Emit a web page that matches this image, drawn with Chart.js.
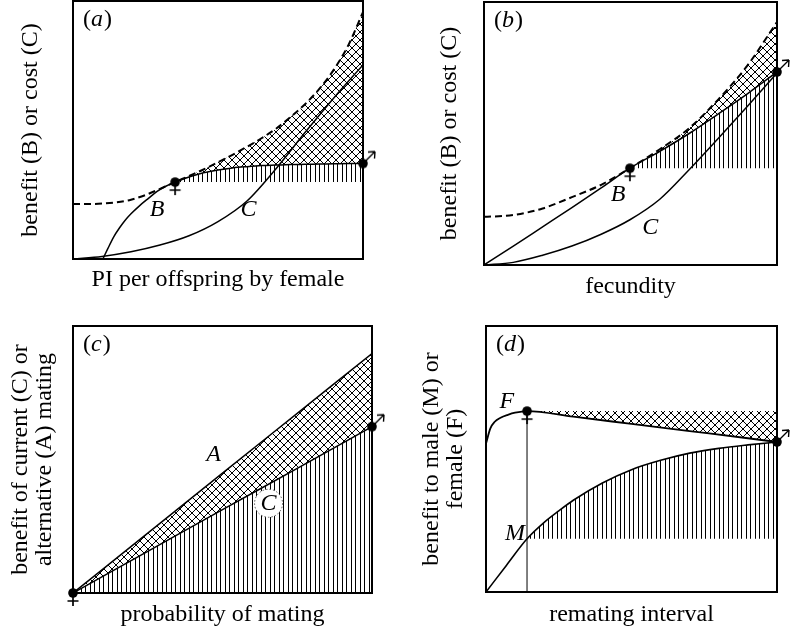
<!DOCTYPE html>
<html>
<head>
<meta charset="utf-8">
<script src="https://cdn.jsdelivr.net/npm/chart.js@4.4.1/dist/chart.umd.min.js"></script>
<style>
  body { margin: 0; background: #fff; }
  #fig { position: relative; width: 790px; height: 629px; overflow: hidden; }
  #fig canvas { position: absolute; }
</style>
</head>
<body>
<div id="fig">
  <canvas id="pa"></canvas>
  <canvas id="pb"></canvas>
  <canvas id="pc"></canvas>
  <canvas id="pd"></canvas>
</div>
<script>
// (a) PI per offspring by female
const aDashX = [0, .05, .1, .15, .2, .25, .3, .352, .4, .45, .5, .55, .6, .65, .7, .75, .8, .85, .9, .95, 1];
const aDashY = [.213, .213, .215, .22, .23, .248, .272, .298, .322, .347, .375, .404, .435, .468, .505, .55, .6, .66, .735, .83, .957];
const aBX = [.103, .12, .14, .16, .18, .2, .23, .26, .29, .32, .352, .4, .45, .5, .55, .6, .65, .7, .75, .8, .85, .9, .95, 1];
const aBY = [0, .04, .085, .12, .15, .175, .207, .235, .262, .282, .298, .318, .334, .345, .353, .358, .362, .364, .366, .367, .368, .369, .37, .37];
const aCX = [0, .1, .2, .3, .4, .5, .6, .7, .8, .9, 1];
const aCY = [0, .01, .028, .054, .09, .145, .225, .35, .49, .625, .752];
const aFemale = [.352, .298];
const aMale = [1, .37];

// (b) fecundity
const bX = [0, .1, .2, .3, .4, .498, .6, .7, .8, .9, 1];
const bDashY = [.183, .19, .215, .258, .305, .368, .44, .52, .63, .76, .924];
const bBY = [0, .072, .145, .218, .293, .368, .432, .5, .575, .652, .734];
const bCY = [0, .01, .037, .072, .117, .172, .25, .362, .482, .605, .73];
const bFemale = [.498, .368];
const bMale = [1, .734];

// (c) probability of mating
const cX = [0, .25, .5, .75, 1];
const cAY = [0, .224, .449, .673, .897];
const cCY = [0, .156, .312, .467, .623];
const cFemale = [0, 0];
const cMale = [1, .623];

// (d) remating interval
const dFX = [0, .015, .03, .05, .075, .1, .141, .3, .5, .7, .9, 1];
const dFY = [.558, .615, .64, .655, .666, .674, .68, .659, .632, .605, .578, .564];
const dMX = [0, .07, .141, .2, .25, .3, .4, .5, .6, .7, .8, .9, 1];
const dMY = [0, .1, .2, .262, .305, .345, .41, .46, .495, .522, .54, .553, .564];
const dFemale = [.141, .68];
const dMale = [1, .564];

const FONT = 'Liberation Serif';
const LH = 24;

function pts(xs, ys) {
  return xs.map((x, i) => ({ x: x, y: ys[i] }));
}
function tail(xs, ys, x0) {
  return pts(xs, ys).filter(p => p.x >= x0 - 1e-9);
}

// hatch patterns
function vertHatch() {
  const c = document.createElement('canvas');
  c.width = 9; c.height = 4;
  const g = c.getContext('2d');
  g.fillStyle = '#000';
  g.fillRect(0, 0, 1, 4);
  g.fillRect(4, 0, 1, 4);
  return g.createPattern(c, 'repeat');
}
function crossHatch() {
  const c = document.createElement('canvas');
  c.width = 8; c.height = 8;
  const g = c.getContext('2d');
  g.strokeStyle = '#000';
  g.lineWidth = 1;
  g.beginPath();
  g.moveTo(-1, -1); g.lineTo(9, 9);
  g.moveTo(9, -1); g.lineTo(-1, 9);
  g.stroke();
  return g.createPattern(c, 'repeat');
}
const VERT = vertHatch();
const CROSS = crossHatch();

// female: dot with a cross below, male: dot with an arrow up-right
function femaleMark() {
  const c = document.createElement('canvas');
  c.width = 16; c.height = 36;
  const g = c.getContext('2d');
  g.fillStyle = '#000'; g.strokeStyle = '#000'; g.lineWidth = 1.7;
  g.beginPath(); g.arc(8, 18, 4.8, 0, Math.PI * 2); g.fill();
  g.beginPath();
  g.moveTo(8, 18); g.lineTo(8, 31);
  g.moveTo(2.5, 26); g.lineTo(13.5, 26);
  g.stroke();
  return c;
}
function maleMark() {
  const c = document.createElement('canvas');
  c.width = 40; c.height = 40;
  const g = c.getContext('2d');
  g.fillStyle = '#000'; g.strokeStyle = '#000'; g.lineWidth = 1.4;
  g.beginPath(); g.arc(20, 20, 4.8, 0, Math.PI * 2); g.fill();
  g.beginPath();
  g.moveTo(20, 20); g.lineTo(32, 8);
  g.moveTo(32, 8); g.lineTo(25, 8.5);
  g.moveTo(32, 8); g.lineTo(31.5, 15);
  g.stroke();
  return c;
}
const FEMALE = femaleMark();
const MALE = maleMark();

function curve(data, extra) {
  return Object.assign({
    data: data, borderColor: '#000', borderWidth: 1.5, pointRadius: 0,
    fill: false, cubicInterpolationMode: 'monotone'
  }, extra || {});
}
function area(data, target, pattern) {
  return curve(data, { borderWidth: 0, borderColor: 'transparent', fill: target, backgroundColor: pattern });
}
function mark(xy, img) {
  return { data: [{ x: xy[0], y: xy[1] }], showLine: false, pointStyle: img, pointRadius: 6, clip: false };
}

function axis(title, pt, pb) {
  return {
    type: 'linear', min: 0, max: 1, display: true,
    ticks: { display: false },
    grid: { display: false, drawTicks: false },
    border: { display: false },
    title: {
      display: true, text: title, color: '#000',
      font: { family: FONT, size: 24, lineHeight: 1 },
      padding: { top: pt, bottom: pb }
    }
  };
}

function drawTag(ctx, a, letter) {
  ctx.save();
  ctx.fillStyle = '#000';
  ctx.textBaseline = 'middle';
  let x = a.left + 10;
  const y = a.top + 19;
  [['(', ''], [letter, 'italic '], [')', '']].forEach(p => {
    ctx.font = p[1] + '24px "' + FONT + '"';
    ctx.fillText(p[0], x, y);
    x += ctx.measureText(p[0]).width + (p[1] ? 1 : 0);
  });
  ctx.restore();
}

function panel(id, box, frame, yTitle, yCenter, xTitle, xCenter, datasets, notes, letter) {
  const cv = document.getElementById(id);
  cv.width = box.w; cv.height = box.h;
  cv.style.left = box.left + 'px';
  cv.style.top = box.top + 'px';
  const lines = Array.isArray(yTitle) ? yTitle.length : 1;
  const ypt = yCenter - LH / 2;
  const ypb = frame.left - lines * LH - ypt;
  const xpb = box.h - xCenter - LH / 2;
  const xpt = box.h - frame.bottom - LH - xpb;

  const decor = {
    id: 'decor',
    beforeDatasetsDraw(chart) {
      const a = chart.chartArea, ctx = chart.ctx;
      ctx.save();
      ctx.strokeStyle = '#000';
      ctx.lineWidth = 2;
      ctx.strokeRect(a.left, a.top, a.width, a.height);
      ctx.restore();
    },
    afterDatasetsDraw(chart) {
      const ctx = chart.ctx, sx = chart.scales.x, sy = chart.scales.y;
      ctx.save();
      notes.forEach(n => {
        const px = sx.getPixelForValue(n.x), py = sy.getPixelForValue(n.y);
        if (n.ring) {
          ctx.beginPath();
          ctx.arc(px, py, 14, 0, Math.PI * 2);
          ctx.fillStyle = '#fff';
          ctx.fill();
          ctx.setLineDash([1.5, 2]);
          ctx.lineWidth = 1;
          ctx.strokeStyle = '#555';
          ctx.stroke();
          ctx.setLineDash([]);
        }
        ctx.fillStyle = '#000';
        ctx.font = 'italic 24px "' + FONT + '"';
        ctx.textAlign = 'center';
        ctx.textBaseline = 'middle';
        ctx.fillText(n.t, px, py);
      });
      ctx.restore();
      drawTag(ctx, chart.chartArea, letter);
    }
  };

  return new Chart(cv, {
    type: 'line',
    data: { datasets: datasets },
    options: {
      responsive: false,
      animation: false,
      events: [],
      devicePixelRatio: 1,
      layout: {
        autoPadding: false,
        padding: { left: 0, top: frame.top, right: box.w - frame.right, bottom: 0 }
      },
      scales: {
        x: axis(xTitle, xpt, xpb),
        y: axis(yTitle, ypt, ypb)
      },
      plugins: { legend: { display: false }, tooltip: { enabled: false } }
    },
    plugins: [decor]
  });
}

// (a)
panel('pa', { left: 0, top: 0, w: 395, h: 305 }, { left: 73, top: 1, right: 363, bottom: 259 },
  'benefit (B) or cost (C)', 31, 'PI per offspring by female', 280,
  [
    area(tail(aDashX, aDashY, aFemale[0]), 1, CROSS),
    area(tail(aBX, aBY, aFemale[0]), { value: aFemale[1] }, VERT),
    curve(pts(aDashX, aDashY), { borderDash: [7, 4], borderWidth: 2 }),
    curve(pts(aBX, aBY)),
    curve(pts(aCX, aCY)),
    mark(aFemale, FEMALE),
    mark(aMale, MALE)
  ],
  [{ t: 'B', x: .29, y: .19 }, { t: 'C', x: .605, y: .19 }], 'a');

// (b)
panel('pb', { left: 395, top: 0, w: 395, h: 305 }, { left: 89, top: 2, right: 382, bottom: 265 },
  'benefit (B) or cost (C)', 55, 'fecundity', 287,
  [
    area(tail(bX, bDashY, bFemale[0]), 1, CROSS),
    area(tail(bX, bBY, bFemale[0]), { value: bFemale[1] }, VERT),
    curve(pts(bX, bDashY), { borderDash: [7, 4], borderWidth: 2 }),
    curve(pts(bX, bBY)),
    curve(pts(bX, bCY)),
    mark(bFemale, FEMALE),
    mark(bMale, MALE)
  ],
  [{ t: 'B', x: .458, y: .266 }, { t: 'C', x: .567, y: .14 }], 'b');

// (c)
panel('pc', { left: 0, top: 305, w: 395, h: 324 }, { left: 73, top: 21, right: 372, bottom: 288 },
  ['benefit of current (C) or', 'alternative (A) mating'], 21, 'probability of mating', 310,
  [
    curve(pts(cX, cAY), { fill: 1, backgroundColor: CROSS }),
    curve(pts(cX, cCY), { fill: { value: 0 }, backgroundColor: VERT }),
    mark(cFemale, FEMALE),
    mark(cMale, MALE)
  ],
  [{ t: 'A', x: .47, y: .517 }, { t: 'C', x: .654, y: .336, ring: true }], 'c');

// (d)
const dMBase = dMY[dMX.indexOf(dFemale[0])];
panel('pd', { left: 395, top: 305, w: 395, h: 324 }, { left: 91, top: 21, right: 382, bottom: 287 },
  ['benefit to male (M) or', 'female (F)'], 37, 'remating interval', 310,
  [
    area(tail(dFX, dFY, dFemale[0]), { value: dFemale[1] }, CROSS),
    area(tail(dMX, dMY, dFemale[0]), { value: dMBase }, VERT),
    curve(pts(dFX, dFY), { borderWidth: 1.8 }),
    curve(pts(dMX, dMY), { borderWidth: 1.6 }),
    curve([{ x: dFemale[0], y: 0 }, { x: dFemale[0], y: dFemale[1] }], { borderWidth: 1, cubicInterpolationMode: 'default' }),
    mark(dFemale, FEMALE),
    mark(dMale, MALE)
  ],
  [{ t: 'F', x: .072, y: .714 }, { t: 'M', x: .1, y: .22 }], 'd');
</script>
</body>
</html>
